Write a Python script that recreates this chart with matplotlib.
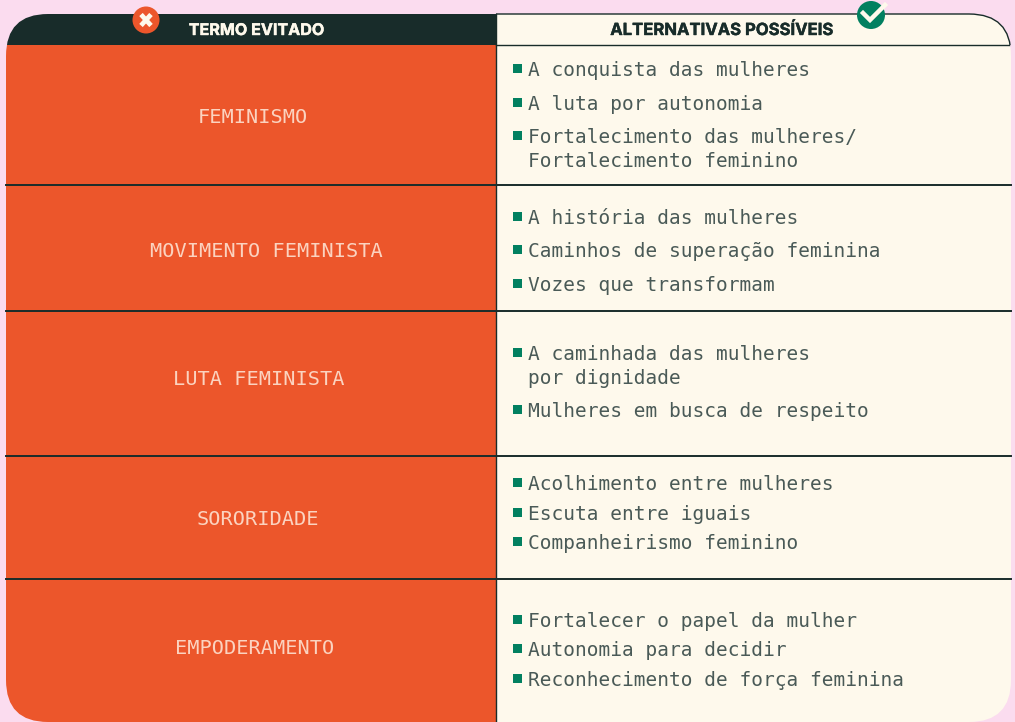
import matplotlib
matplotlib.use("Agg")
import matplotlib.pyplot as plt
import matplotlib.patheffects as pe
from matplotlib.patches import FancyBboxPatch, Rectangle, Circle

# table content
header_left = "TERMO EVITADO"
header_right = "ALTERNATIVAS POSSÍVEIS"
terms = ["FEMINISMO", "MOVIMENTO FEMINISTA", "LUTA FEMINISTA", "SORORIDADE", "EMPODERAMENTO"]
alternatives = [
    ["A conquista das mulheres", "A luta por autonomia", "Fortalecimento das mulheres/\nFortalecimento feminino"],
    ["A história das mulheres", "Caminhos de superação feminina", "Vozes que transformam"],
    ["A caminhada das mulheres\npor dignidade", "Mulheres em busca de respeito"],
    ["Acolhimento entre mulheres", "Escuta entre iguais", "Companheirismo feminino"],
    ["Fortalecer o papel da mulher", "Autonomia para decidir", "Reconhecimento de força feminina"],
]

# layout, in pixels of the reference
term_x = [253, 266, 259, 258, 255]
term_y = [116, 250, 378, 518, 647]
alt_y = [[69, 103, 136], [217, 250, 284], [353, 410], [483, 513, 542], [620, 649, 679]]
row_lines = [185, 311, 456, 579]

PINK = "#FBDCEF"
ORANGE = "#EC562B"
DARK = "#182C2A"
CREAM = "#FEF9EC"
GREEN = "#028060"
TEXT = "#4A5A57"
LEFT, RIGHT, TOP, BOTTOM = 6, 1011, 14, 722
SPLIT, HEAD = 496.5, 44.5

fig = plt.figure(figsize=(10.15, 7.22), dpi=100, facecolor=PINK)
ax = fig.add_axes([0, 0, 1, 1])
ax.set_xlim(0, 1015)
ax.set_ylim(722, 0)
ax.axis("off")

# rounded panel, everything else gets clipped to it
panel = FancyBboxPatch((LEFT, TOP), RIGHT - LEFT, BOTTOM - TOP,
                       boxstyle="round,pad=0,rounding_size=42",
                       facecolor="none", edgecolor="none")
ax.add_patch(panel)

blocks = [
    (LEFT, TOP, SPLIT - LEFT, HEAD - TOP, DARK),
    (SPLIT, TOP, RIGHT - SPLIT, HEAD - TOP, CREAM),
    (LEFT, HEAD, SPLIT - LEFT, BOTTOM - HEAD, ORANGE),
    (SPLIT, HEAD, RIGHT - SPLIT, BOTTOM - HEAD, CREAM),
]
for x, y, w, h, c in blocks:
    r = Rectangle((x, y), w, h, facecolor=c, edgecolor="none", zorder=1)
    ax.add_patch(r)
    r.set_clip_path(panel)

# outline of the right header cell
outline = FancyBboxPatch((LEFT, TOP), RIGHT - LEFT, BOTTOM - TOP,
                         boxstyle="round,pad=0,rounding_size=42",
                         facecolor="none", edgecolor=DARK, linewidth=1.0, zorder=2)
ax.add_patch(outline)
outline.set_clip_path(Rectangle((SPLIT, 0), 600, HEAD, transform=ax.transData))

ax.plot([SPLIT, RIGHT - 2], [HEAD, HEAD], color=DARK, lw=1.0, zorder=2)
ax.plot([SPLIT, SPLIT], [TOP, BOTTOM], color=DARK, lw=1.0, zorder=2)
for y in row_lines:
    ax.plot([LEFT, RIGHT], [y, y], color=DARK, lw=1.4, zorder=2)

# headers
ax.text(256.5, 30.5, header_left, color=CREAM, fontsize=11.6, fontweight="bold",
        family="Inter", ha="center", va="center", zorder=3,
        path_effects=[pe.withStroke(linewidth=0.3, foreground=CREAM)])
ax.text(722, 30.5, header_right, color=DARK, fontsize=12.0, fontweight="bold",
        family="Inter", ha="center", va="center", zorder=3,
        path_effects=[pe.withStroke(linewidth=0.3, foreground=DARK)])

# header icons
ax.add_patch(Circle((146, 20), 13.5, facecolor=ORANGE, edgecolor="none", zorder=4))
ax.plot([141, 151], [14.5, 25.5], color=CREAM, lw=3.4, zorder=5, solid_capstyle="butt")
ax.plot([151, 141], [14.5, 25.5], color=CREAM, lw=3.4, zorder=5, solid_capstyle="butt")
ax.add_patch(Circle((871, 15), 14, facecolor=GREEN, edgecolor="none", zorder=4))
ax.plot([863, 870, 885], [13, 20, 5], color=CREAM, lw=3.2, zorder=5, solid_joinstyle="miter")

# rows
for name, x, y in zip(terms, term_x, term_y):
    ax.text(x, y + 1.5, name, color="#FBD3C0", fontsize=14.6, family="DejaVu Sans Mono",
            ha="center", va="center", zorder=3)

for items, ys in zip(alternatives, alt_y):
    for item, y in zip(items, ys):
        ax.add_patch(Rectangle((513.5, y - 5), 9, 9, facecolor=GREEN, edgecolor="none", zorder=3))
        for n, line in enumerate(item.split("\n")):
            ax.text(528.5, y + 1.5 + n * 24, line, color=TEXT, fontsize=14.0,
                    family="DejaVu Sans Mono", ha="left", va="center", zorder=3)

fig.savefig("out.png", dpi=100, facecolor=PINK)
